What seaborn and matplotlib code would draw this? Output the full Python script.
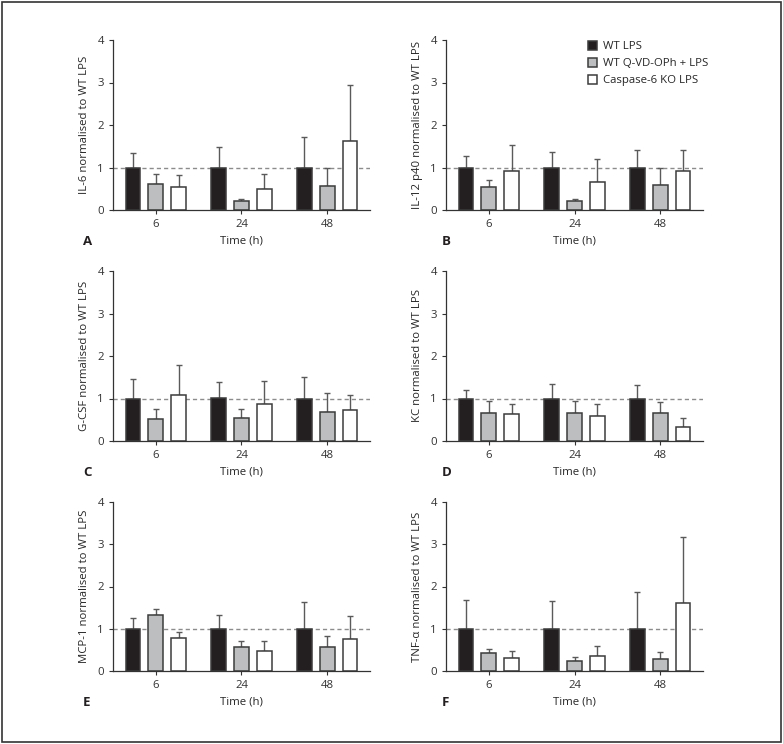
import numpy as np
import pandas as pd
import seaborn as sns
import matplotlib.pyplot as plt
from matplotlib.patches import Rectangle

# categorias
times = ["6", "24", "48"]
groups = ["WT LPS", "WT Q-VD-OPh + LPS", "Caspase-6 KO LPS"]
colors = ["#231f20", "#bcbec0", "#ffffff"]

# medias (por grupo: WT, QVD, KO) e erro (SEM, só para cima)
il6_mean = [[1.0, 1.0, 1.0], [0.62, 0.22, 0.57], [0.54, 0.49, 1.63]]
il6_err = [[0.35, 0.48, 0.71], [0.22, 0.05, 0.41], [0.28, 0.36, 1.32]]

il12_mean = [[1.0, 1.0, 1.0], [0.53, 0.22, 0.60], [0.92, 0.66, 0.92]]
il12_err = [[0.27, 0.37, 0.41], [0.17, 0.05, 0.39], [0.60, 0.53, 0.49]]

gcsf_mean = [[1.0, 1.02, 1.0], [0.52, 0.53, 0.69], [1.09, 0.87, 0.73]]
gcsf_err = [[0.46, 0.37, 0.50], [0.23, 0.22, 0.44], [0.70, 0.54, 0.35]]

kc_mean = [[1.0, 1.0, 1.0], [0.65, 0.67, 0.67], [0.64, 0.59, 0.33]]
kc_err = [[0.20, 0.35, 0.32], [0.29, 0.28, 0.24], [0.23, 0.28, 0.21]]

mcp1_mean = [[1.0, 1.0, 1.0], [1.32, 0.57, 0.57], [0.78, 0.48, 0.76]]
mcp1_err = [[0.25, 0.33, 0.63], [0.14, 0.14, 0.27], [0.15, 0.23, 0.54]]

tnf_mean = [[1.0, 1.0, 1.0], [0.42, 0.24, 0.29], [0.31, 0.36, 1.62]]
tnf_err = [[0.68, 0.66, 0.86], [0.10, 0.09, 0.17], [0.16, 0.23, 1.54]]

panels = [
    ("A", "IL-6", il6_mean, il6_err),
    ("B", "IL-12 p40", il12_mean, il12_err),
    ("C", "G-CSF", gcsf_mean, gcsf_err),
    ("D", "KC", kc_mean, kc_err),
    ("E", "MCP-1", mcp1_mean, mcp1_err),
    ("F", "TNF-\u03b1", tnf_mean, tnf_err),
]

sns.set_style("ticks")
plt.rcParams['font.family'] = ['Open Sans', 'DejaVu Sans']
plt.rcParams['font.size'] = 8.2

W, H = 783, 744
fig = plt.figure(figsize=(W / 100, H / 100), dpi=100)

lefts = [113, 446]
rows = [(40, 210), (271, 441), (502, 671)]
axw = 257

for i, (letter, name, means, errs) in enumerate(panels):
    col, row = i % 2, i // 2
    top, bot = rows[row]
    ax = fig.add_axes([lefts[col] / W, 1 - bot / H, axw / W, (bot - top) / H])

    df = pd.DataFrame({
        "Time": np.tile(times, 3),
        "Group": np.repeat(groups, 3),
        "Value": np.concatenate(means),
        "Err": np.concatenate(errs),
    })

    ax.axhline(1, color="#8c8c8c", ls=(0, (3, 2.2)), lw=1, zorder=0)
    sns.barplot(data=df, x="Time", y="Value", hue="Group", hue_order=groups,
                palette=colors, errorbar=None, width=0.8, gap=0.35,
                edgecolor="#3c3c3c", linewidth=1.1, saturation=1, ax=ax,
                legend=(letter == "B"), zorder=2)

    # barras de erro (só para cima)
    bar_conts = list(ax.containers)
    for k, cont in enumerate(bar_conts):
        xs = [b.get_x() + b.get_width() / 2 for b in cont]
        ys = [b.get_height() for b in cont]
        e = errs[k]
        ax.errorbar(xs, ys, yerr=[np.zeros(len(e)), e], fmt="none",
                    ecolor="#5a5a5a", elinewidth=1, capsize=2, capthick=1,
                    zorder=1)

    ax.set_xlim(-0.5, 2.5)
    ax.set_ylim(0, 4)
    ax.set_yticks([0, 1, 2, 3, 4])
    ax.set_xlabel("Time (h)", labelpad=4)
    ax.set_ylabel(f"{name} normalised to WT LPS", labelpad=5)
    sns.despine(ax=ax)
    for s in ["left", "bottom"]:
        ax.spines[s].set_color("#333333")
        ax.spines[s].set_linewidth(0.9)
    ax.tick_params(length=3, width=0.8, color="#333333", labelcolor="#333333")

    if letter == "B":
        ax.legend(loc="upper left", bbox_to_anchor=(0.535, 1.02), frameon=False,
                  handlelength=0.8, handleheight=0.8, handletextpad=0.5,
                  labelspacing=0.5, fontsize=8.2, borderaxespad=0)

    lx = [83, 442][col]
    fig.text(lx / W, 1 - (bot + 31) / H, letter, fontsize=9.5, fontweight="bold",
             va="center", ha="left", color="#231f20")

fig.patches.append(Rectangle((0.003, 0.003), 0.994, 0.994, transform=fig.transFigure,
                             fill=False, edgecolor="#333333", lw=1.2))

plt.savefig("out.png", dpi=100)
